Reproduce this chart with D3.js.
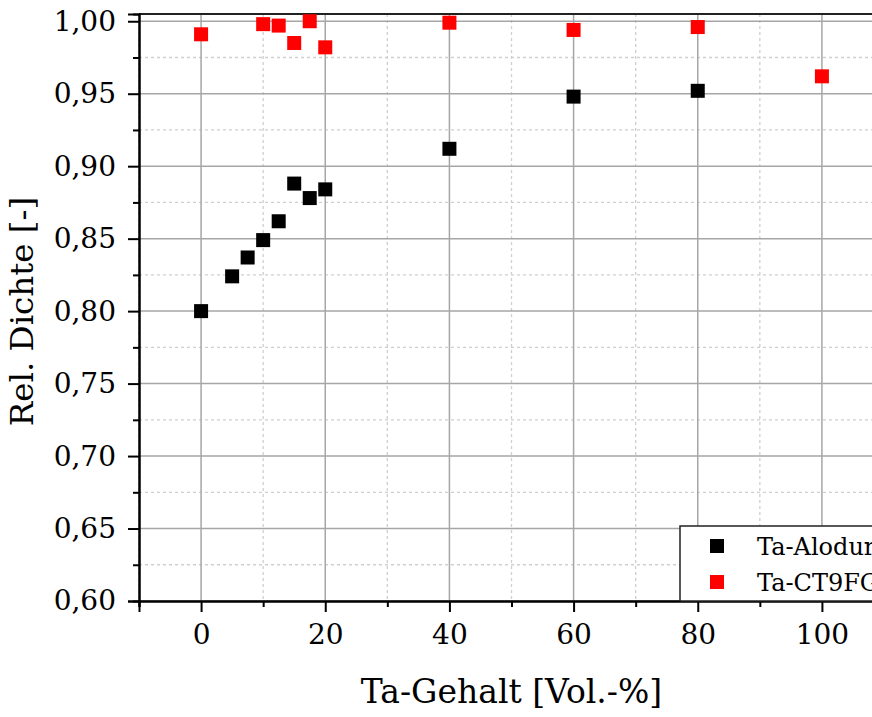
<!DOCTYPE html>
<html>
<head>
<meta charset="utf-8">
<script src="https://cdn.jsdelivr.net/npm/d3@7"></script>
<style>
  html, body { margin: 0; padding: 0; background: #fff; }
  svg { display: block; }
  text { font-family: "DejaVu Serif", "Liberation Serif", serif; fill: #000; }
</style>
</head>
<body>
<svg id="chart" width="872" height="717"></svg>
<script>
// Relative density vs. tantalum content for two powder mixtures
const seriesNames = ["Ta-Alodur", "Ta-CT9FG"];
const seriesColors = ["#000000", "#ff0000"];

const taAlodurX = [0, 5, 7.5, 10, 12.5, 15, 17.5, 20, 40, 60, 80];
const taAlodurY = [0.800, 0.824, 0.837, 0.849, 0.862, 0.888, 0.878, 0.884, 0.912, 0.948, 0.952];

const taCT9FGX = [0, 10, 12.5, 15, 17.5, 20, 40, 60, 80, 100];
const taCT9FGY = [0.991, 0.998, 0.997, 0.985, 1.000, 0.982, 0.999, 0.994, 0.996, 0.962];

const xMajorTicks = [0, 20, 40, 60, 80, 100];
const xMinorTicks = [-10, 10, 30, 50, 70, 90, 110];
const yMajorTicks = [0.60, 0.65, 0.70, 0.75, 0.80, 0.85, 0.90, 0.95, 1.00];
const yMinorTicks = [0.625, 0.675, 0.725, 0.775, 0.825, 0.875, 0.925, 0.975];

const xLabel = "Ta-Gehalt [Vol.-%]";
const yLabel = "Rel. Dichte [-]";

const svg = d3.select("#chart");

const plot = { left: 139, right: 884, top: 14, bottom: 601 };

const x = d3.scaleLinear().domain([-10, 110]).range([plot.left, plot.right]);
const y = d3.scaleLinear().domain([0.60, 1.005]).range([plot.bottom, plot.top]);

const de = d3.formatLocale({ decimal: ",", thousands: ".", grouping: [3], currency: ["", "€"] });
const fmtY = de.format(".2f");

// grid: dashed minor lines, solid major lines
const grid = svg.append("g");
grid.selectAll(".vminor").data(xMinorTicks).join("line")
  .attr("x1", d => x(d)).attr("x2", d => x(d))
  .attr("y1", plot.top).attr("y2", plot.bottom)
  .attr("stroke", "#cfcfcf").attr("stroke-width", 1.3).attr("stroke-dasharray", "3,3");
grid.selectAll(".hminor").data(yMinorTicks).join("line")
  .attr("x1", plot.left).attr("x2", plot.right)
  .attr("y1", d => y(d)).attr("y2", d => y(d))
  .attr("stroke", "#cfcfcf").attr("stroke-width", 1.3).attr("stroke-dasharray", "3,3");
grid.selectAll(".vmajor").data(xMajorTicks).join("line")
  .attr("x1", d => x(d)).attr("x2", d => x(d))
  .attr("y1", plot.top).attr("y2", plot.bottom)
  .attr("stroke", "#a6a6a6").attr("stroke-width", 1.5);
grid.selectAll(".hmajor").data(yMajorTicks).join("line")
  .attr("x1", plot.left).attr("x2", plot.right)
  .attr("y1", d => y(d)).attr("y2", d => y(d))
  .attr("stroke", "#a6a6a6").attr("stroke-width", 1.5);

// top frame
svg.append("line")
  .attr("x1", plot.left).attr("x2", plot.right)
  .attr("y1", plot.top).attr("y2", plot.top)
  .attr("stroke", "#222").attr("stroke-width", 2);

// axes
const xAxis = svg.append("g").attr("transform", `translate(0,${plot.bottom})`)
  .call(d3.axisBottom(x).tickValues(xMajorTicks).tickSize(11).tickPadding(10).tickFormat(d3.format("d")));
const xAxisMinor = svg.append("g").attr("transform", `translate(0,${plot.bottom})`)
  .call(d3.axisBottom(x).tickValues(xMinorTicks).tickSize(6).tickFormat(""));
const yAxis = svg.append("g").attr("transform", `translate(${plot.left},0)`)
  .call(d3.axisLeft(y).tickValues(yMajorTicks).tickSize(11).tickPadding(12).tickFormat(fmtY));
const yAxisMinor = svg.append("g").attr("transform", `translate(${plot.left},0)`)
  .call(d3.axisLeft(y).tickValues(yMinorTicks).tickSize(6).tickFormat(""));

[xAxis, xAxisMinor, yAxis, yAxisMinor].forEach(g => {
  g.select(".domain").attr("stroke", "#000").attr("stroke-width", 2);
  g.selectAll(".tick line").attr("stroke", "#000").attr("stroke-width", 2);
  g.selectAll(".tick text").style("font-family", "DejaVu Serif, serif").style("font-size", "28px").attr("fill", "#000");
});
xAxis.selectAll(".tick text").attr("dy", "0.78em");

// axis titles
svg.append("text")
  .attr("x", (plot.left + plot.right) / 2).attr("y", 703)
  .attr("text-anchor", "middle").style("font-size", "33px")
  .text(xLabel);
svg.append("text")
  .attr("transform", `translate(33,${(plot.top + plot.bottom) / 2 + 4}) rotate(-90)`)
  .attr("text-anchor", "middle").style("font-size", "32.5px")
  .text(yLabel);

// data markers
const series = [
  { xs: taAlodurX, ys: taAlodurY },
  { xs: taCT9FGX, ys: taCT9FGY }
];
const size = 14;
series.forEach((s, i) => {
  svg.append("g").selectAll("rect").data(s.xs.map((v, k) => [v, s.ys[k]])).join("rect")
    .attr("x", d => x(d[0]) - size / 2).attr("y", d => y(d[1]) - size / 2)
    .attr("width", size).attr("height", size)
    .attr("fill", seriesColors[i]);
});

// legend (the plot continues past the right edge of the view)
const legend = svg.append("g").attr("transform", "translate(680,526)");
legend.append("rect")
  .attr("x", 0).attr("y", 0).attr("width", 260).attr("height", 75)
  .attr("fill", "#fff").attr("stroke", "#222").attr("stroke-width", 1.5);
seriesNames.forEach((name, i) => {
  const cy = 20 + i * 36;
  legend.append("rect")
    .attr("x", 30).attr("y", cy - size / 2).attr("width", size).attr("height", size)
    .attr("fill", seriesColors[i]);
  legend.append("text")
    .attr("x", 77).attr("y", cy + 9)
    .style("font-size", "24px")
    .text(name);
});
</script>
</body>
</html>
